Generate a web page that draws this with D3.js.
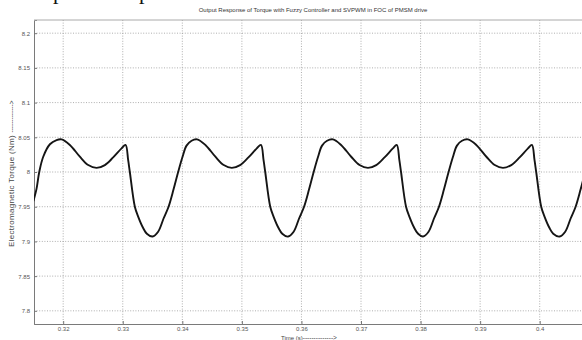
<!DOCTYPE html>
<html>
<head>
<meta charset="utf-8">
<script src="https://cdn.jsdelivr.net/npm/d3@7"></script>
<style>
  body { margin: 0; background: #fff; }
  svg { display: block; font-family: 'Liberation Sans', Arial, sans-serif; }
  .grid line { stroke: #9a9a9a; stroke-width: 0.8; stroke-dasharray: 1, 1.6; }
  .tick-label { font-size: 6px; fill: #555; }
</style>
</head>
<body>
<div id="chart"></div>
<script>
const title = 'Output Response of Torque with Fuzzy Controller and SVPWM in FOC of PMSM drive'
const xLabel = 'Time (s)'
const yLabel = 'Electromagnetic Torque (Nm)'
const arrow = '------------->'

const xTicks = [0.32, 0.33, 0.34, 0.35, 0.36, 0.37, 0.38, 0.39, 0.4]
const xTickLabels = ['0.32', '0.33', '0.34', '0.35', '0.36', '0.37', '0.38', '0.39', '0.4']
const yTicks = [7.8, 7.85, 7.9, 7.95, 8, 8.05, 8.1, 8.15, 8.2]
const yTickLabels = ['7.8', '7.85', '7.9', '7.95', '8', '8.05', '8.1', '8.15', '8.2']

// time (s) and torque (Nm), one row per swing
const time = [
  0.3150, 0.31553, 0.31598, 0.31665, 0.31777, 0.31889, 0.31973,
  0.32112, 0.32280, 0.32420, 0.32560, 0.32700, 0.32839, 0.32980, 0.33047,
  0.33091, 0.33119, 0.33203, 0.33262, 0.33338, 0.33405, 0.33500,
  0.33594, 0.33685, 0.33769, 0.33853, 0.33930, 0.34004, 0.34071, 0.34155, 0.34248,
  0.34387, 0.34555, 0.34695, 0.34830, 0.34970, 0.35110, 0.35250, 0.35320,
  0.35364, 0.35392, 0.35476, 0.35535, 0.35611, 0.35678, 0.35775,
  0.35869, 0.35960, 0.36044, 0.36128, 0.36205, 0.36279, 0.36346, 0.36430, 0.36530,
  0.36665, 0.36835, 0.36975, 0.37117, 0.37255, 0.37395, 0.37535, 0.37600,
  0.37644, 0.37672, 0.37756, 0.37815, 0.37891, 0.37958, 0.38040,
  0.38134, 0.38225, 0.38309, 0.38393, 0.38470, 0.38544, 0.38611, 0.38695, 0.38795,
  0.38935, 0.39105, 0.39245, 0.39383, 0.39523, 0.39663, 0.39803, 0.39869,
  0.39913, 0.39941, 0.40025, 0.40084, 0.40160, 0.40227, 0.40334,
  0.40428, 0.40519, 0.40603, 0.40687, 0.40764, 0.40838
]
const torque = [
  7.958, 7.976, 8.000, 8.022, 8.040, 8.046, 8.047,
  8.039, 8.022, 8.010, 8.006, 8.010, 8.021, 8.034, 8.039,
  8.017, 8.000, 7.950, 7.935, 7.920, 7.911, 7.907,
  7.914, 7.933, 7.950, 7.975, 8.000, 8.022, 8.038, 8.045, 8.047,
  8.039, 8.022, 8.010, 8.006, 8.010, 8.021, 8.034, 8.039,
  8.017, 8.000, 7.950, 7.935, 7.920, 7.911, 7.907,
  7.914, 7.933, 7.950, 7.975, 8.000, 8.022, 8.038, 8.045, 8.047,
  8.039, 8.022, 8.010, 8.006, 8.010, 8.021, 8.034, 8.039,
  8.017, 8.000, 7.950, 7.935, 7.920, 7.911, 7.907,
  7.914, 7.933, 7.950, 7.975, 8.000, 8.022, 8.038, 8.045, 8.047,
  8.039, 8.022, 8.010, 8.006, 8.010, 8.021, 8.034, 8.039,
  8.017, 8.000, 7.950, 7.935, 7.920, 7.911, 7.907,
  7.914, 7.933, 7.950, 7.975, 8.000, 8.022
]

const width = 582
const height = 340
const plot = { left: 34, top: 20, right: 582, bottom: 324 }

const svg = d3.select('#chart')
  .append('svg')
  .attr('width', width)
  .attr('height', height)

const x = d3.scaleLinear()
  .domain([0.3151, 0.4071])
  .range([plot.left, plot.right])

const y = d3.scaleLinear()
  .domain([7.781, 8.219])
  .range([plot.bottom, plot.top])

// bits of the document text above the figure (cut off)
svg.append('g')
  .selectAll('text')
  .data([53, 139])
  .join('text')
  .attr('x', d => d)
  .attr('y', -1)
  .attr('font-family', "'Liberation Serif', serif")
  .attr('font-size', 22)
  .attr('fill', '#111')
  .text('p')

svg.append('defs')
  .append('clipPath')
  .attr('id', 'plot-clip')
  .append('rect')
  .attr('x', plot.left)
  .attr('y', plot.top)
  .attr('width', plot.right - plot.left)
  .attr('height', plot.bottom - plot.top)

// grid
const grid = svg.append('g').classed('grid', true)
grid.selectAll('.gx')
  .data(xTicks)
  .join('line')
  .attr('x1', d => x(d))
  .attr('x2', d => x(d))
  .attr('y1', plot.top)
  .attr('y2', plot.bottom)
grid.selectAll('.gy')
  .data(yTicks)
  .join('line')
  .attr('class', 'gy')
  .attr('x1', plot.left)
  .attr('x2', plot.right)
  .attr('y1', d => y(d))
  .attr('y2', d => y(d))

// axes
const xAxis = svg.append('g')
  .attr('transform', `translate(0, ${plot.bottom})`)
  .call(d3.axisBottom(x).tickValues(xTicks).tickSize(-3).tickPadding(3)
    .tickFormat((d, i) => xTickLabels[i]))
const yAxis = svg.append('g')
  .attr('transform', `translate(${plot.left}, 0)`)
  .call(d3.axisLeft(y).tickValues(yTicks).tickSize(-3).tickPadding(4)
    .tickFormat((d, i) => yTickLabels[i]))

xAxis.select('.domain').attr('stroke', '#7a7a7a')
yAxis.select('.domain').attr('stroke', '#7a7a7a')
svg.selectAll('.tick line').attr('stroke', '#777')
svg.selectAll('.tick text')
  .classed('tick-label', true)
  .attr('font-size', null)
  .attr('font-family', null)
  .attr('fill', null)

// top border of the axes box
svg.append('line')
  .attr('x1', plot.left)
  .attr('x2', plot.right)
  .attr('y1', plot.top)
  .attr('y2', plot.top)
  .attr('stroke', '#aaa')
  .attr('stroke-width', 1)

// torque trace
const points = time.map((t, i) => [t, torque[i]])
svg.append('path')
  .datum(points)
  .attr('clip-path', 'url(#plot-clip)')
  .attr('fill', 'none')
  .attr('stroke', '#151515')
  .attr('stroke-width', 1.9)
  .attr('stroke-linejoin', 'round')
  .attr('d', d3.line()
    .x(d => x(d[0]))
    .y(d => y(d[1]))
    .curve(d3.curveCatmullRom.alpha(0.5)))

// texts
svg.append('text')
  .attr('x', 313)
  .attr('y', 12)
  .attr('text-anchor', 'middle')
  .attr('font-size', 6)
  .attr('fill', '#333')
  .text(title)

const xl = svg.append('text')
  .attr('x', 281)
  .attr('y', 339.5)
  .attr('font-size', 6)
  .attr('fill', '#444')
xl.append('tspan').text(xLabel)
xl.append('tspan').attr('font-size', 6.5).text('-' + arrow)

const yl = svg.append('text')
  .attr('transform', 'translate(14, 247) rotate(-90)')
  .attr('fill', '#444')
yl.append('tspan').attr('font-size', 8).attr('letter-spacing', 0.3).text(yLabel + ' ')
yl.append('tspan').attr('font-size', 6.5).text(arrow)
</script>
</body>
</html>
